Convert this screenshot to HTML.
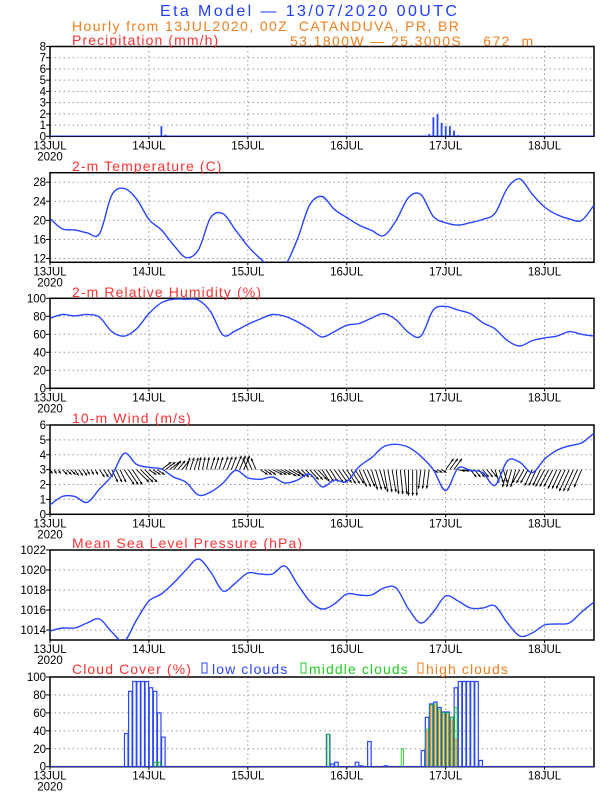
<!DOCTYPE html>
<html><head><meta charset="utf-8">
<style>
html,body{margin:0;padding:0;background:#fff;}
svg{display:block;font-family:"Liberation Sans",sans-serif;}
</style></head>
<body>
<svg id="chart" width="612" height="792" viewBox="0 0 612 792" xmlns="http://www.w3.org/2000/svg">
<text x="160" y="16" font-size="16" letter-spacing="2.4" fill="#2040ff">Eta Model — 13/07/2020 00UTC</text>
<text x="72" y="31" font-size="14" letter-spacing="1.4" fill="#f08020" xml:space="preserve">Hourly from 13JUL2020, 00Z  CATANDUVA, PR, BR</text>
<text x="290" y="46" font-size="14" letter-spacing="1.4" fill="#f08020" xml:space="preserve">53.1800W — 25.3000S    672  m</text>
</svg>
<script>
const hours3 = [0,3,6,9,12,15,18,21,24,27,30,33,36,39,42,45,48,51,54,57,60,63,66,69,72,75,78,81,84,87,90,93,96,99,102,105,108,111,114,117,120,123,126,129,132];
const dayLabels = ["13JUL","14JUL","15JUL","16JUL","17JUL","18JUL"];
const precipHours = [27,28,31,32,33,34,35,36,92,93,94,95,96,97,98,99];
const precipValues = [0.9,0.15,0.03,0.03,0.03,0.03,0.03,0.03,0.2,1.7,2.0,1.2,0.9,0.9,0.5,0.1];
const temperature = [20.4,18.2,18.0,17.4,17.2,25.3,26.7,24.5,20.2,18.0,14.8,12.2,13.8,20.6,21.4,18.0,14.6,12.0,10.0,10.5,16.0,23.2,25.0,22.3,20.6,19.0,17.9,16.8,20.0,24.8,25.4,20.8,19.5,19.0,19.5,20.2,21.5,26.8,28.7,25.5,22.8,21.2,20.3,20.0,23.2];
const humidity = [77.8,82,80.5,82,79,63,58,66,83,95,99,99,98,85,59,64,71,77,82,80,74,66,57,63,70,72,78,83,76,62,58,87,91,87,83,73,66,53,47,53,56,58,63,60,58];
const windSpeed = [0.63,1.2,1.2,0.8,1.7,2.6,4.1,3.35,3.15,3.05,2.5,2.15,1.3,1.5,2.1,2.95,2.45,2.35,2.5,2.1,2.3,2.7,1.85,2.3,2.2,3.2,3.8,4.55,4.7,4.5,3.9,3.0,1.6,3.1,2.95,2.8,1.95,3.6,3.5,2.8,3.7,4.3,4.6,4.8,5.45];
const windU = [0.5,1,0.8,0.5,1,1.2,2,2.5,1.5,2,1.5,0.8,0.5,0.8,1,1.2,-1,1.5,2,2.3,1.5,1.8,1.5,1.8,1.8,1.5,1.2,0.8,0.5,0,-0.5,1,1.6,1.5,1.2,1.2,0.8,-1,-1.5,-1.5,-1.8,-1.8,-2,-1.5,-1.8];
const windV = [-0.8,-1,-1.2,-1,-1.5,-2.5,-3,-2.5,-1,1.5,1.8,2.4,2.5,2.5,2.6,2.8,2.3,-1,-1,-1.3,-1.5,-2,-2.4,-2.6,-2.8,-3.4,-4,-4.5,-4.9,-5.2,-3.8,-0.6,2.2,-0.3,-1.5,-1.5,-2.6,-3.5,-2.7,-3.2,-3.4,-3.8,-4.3,-3.5,-3.6];
const pressure = [1013.9,1014.2,1014.2,1014.7,1015.1,1013.8,1012.9,1015.0,1016.9,1017.6,1018.7,1020.0,1021.1,1019.8,1017.9,1018.7,1019.7,1019.6,1019.6,1020.4,1018.6,1016.9,1016.1,1016.6,1017.6,1017.5,1017.5,1018.2,1018.2,1016.1,1014.7,1015.8,1017.4,1016.9,1016.2,1016.2,1016.4,1014.7,1013.4,1013.7,1014.5,1014.6,1014.7,1015.8,1016.8];
const lowCloudHours = [18,19,20,21,22,23,24,25,26,27,67,68,69,74,75,77,81,90,91,92,93,94,95,96,97,98,99,100,101,102,103,104];
const lowCloudValues = [37,84,95,95,95,95,88,84,60,33,36,3,5,5,1,28,1,18,55,70,72,66,61,61,55,88,95,95,95,95,95,7];
const midCloudHours = [25,26,67,85,91,92,93,94,95,96,97,98];
const midCloudValues = [5,5,36,20,42,69,70,64,60,60,55,66];
const highCloudHours = [91,92,93,94,95,96,97,98];
const highCloudValues = [40,68,68,62,58,58,52,31];

const precipTicks = [0,1,2,3,4,5,6,7,8];
const tempTicks = [12,16,20,24,28];
const rhTicks = [0,20,40,60,80,100];
const windTicks = [0,1,2,3,4,5,6];
const presTicks = [1014,1016,1018,1020,1022];
const cloudTicks = [0,20,40,60,80,100];

const NS = "http://www.w3.org/2000/svg";
const svg = document.getElementById("chart");
const X0 = 50, X1 = 594, HMAX = 132;
function xs(h){ return X0 + h*(X1-X0)/HMAX; }
function mk(tag, attrs, parent){ const e=document.createElementNS(NS,tag); for(const k in attrs) e.setAttribute(k,attrs[k]); (parent||svg).appendChild(e); return e; }

function panel(id, top, bottom, vmin, vmax, ticks, title, titleY){
  const g = mk("g",{});
  
  
  const ys = v => bottom - (v-vmin)/(vmax-vmin)*(bottom-top);
  ticks.forEach(t=>{ const y=ys(t); if(y>top+1 && y<bottom-1){ const l=mk("line",{x1:X0,x2:X1,y1:y,y2:y,stroke:"#999","stroke-width":1,"stroke-dasharray":"1.5,3"},g);
    
     }});
  for(let d=1; d<=5; d++){ const x=xs(d*24); const l=mk("line",{x1:x,x2:x,y1:top,y2:bottom,stroke:"#999","stroke-width":1,"stroke-dasharray":"1.5,3"},g);
    
     }
  const f = mk("rect",{x:X0,y:top,width:X1-X0,height:bottom-top,fill:"none",stroke:"#000","stroke-width":1.5},g);
  
  
  ticks.forEach(t=>{ const y=ys(t);
    mk("line",{x1:X0-4,x2:X0,y1:y,y2:y,stroke:"#000","stroke-width":1},g);
    const tx=mk("text",{x:X0-4,y:y+4,"text-anchor":"end","font-size":11.5,fill:"#000"},g); tx.textContent=t;
    
     });
  dayLabels.forEach((lab,i)=>{ const x=xs(i*24);
    mk("line",{x1:x,x2:x,y1:bottom,y2:bottom+3,stroke:"#000","stroke-width":1},g);
    const tx=mk("text",{x:x,y:bottom+13,"text-anchor":"middle","font-size":11.5,fill:"#000"},g); tx.textContent=lab;
    
     });
  const yr=mk("text",{x:X0,y:bottom+24,"text-anchor":"middle","font-size":11.5,fill:"#000"},g); yr.textContent="2020";
  
  
  if(title){ const tt=mk("text",{x:72,y:titleY,"font-size":14,"letter-spacing":1.1,fill:"#ff3333"},g); tt.textContent=title;
    
     }
  const cp = mk("clipPath",{id:"clip-"+id},g);
  mk("rect",{x:X0,y:top,width:X1-X0,height:bottom-top},cp);
  const dg = mk("g",{"clip-path":"url(#clip-"+id+")"},g);
  return {g:dg, ys, top, bottom};
}
function smoothPath(pts){
  let d="M"+pts[0][0].toFixed(1)+","+pts[0][1].toFixed(1);
  for(let i=0;i<pts.length-1;i++){
    const p0=pts[i-1]||pts[i], p1=pts[i], p2=pts[i+1], p3=pts[i+2]||p2;
    const c1=[p1[0]+(p2[0]-p0[0])/6, p1[1]+(p2[1]-p0[1])/6];
    const c2=[p2[0]-(p3[0]-p1[0])/6, p2[1]-(p3[1]-p1[1])/6];
    d+=" C"+c1[0].toFixed(1)+","+c1[1].toFixed(1)+" "+c2[0].toFixed(1)+","+c2[1].toFixed(1)+" "+p2[0].toFixed(1)+","+p2[1].toFixed(1);
  }
  return d;
}
function line(p, vals, name){
  const pts = vals.map((v,i)=>[xs(hours3[i]), p.ys(v)]);
  const e = mk("path",{d:smoothPath(pts),fill:"none",stroke:"#2846ff","stroke-width":1.4},p.g);
  
  
}

const pp = panel("precipitation",46.5,136.3,0,8,precipTicks,"Precipitation (mm/h)",45);
const pb = mk("line",{x1:X0,x2:X1,y1:pp.ys(0),y2:pp.ys(0),stroke:"#2846ff","stroke-width":1.5},pp.g);


precipHours.forEach((h,i)=>{
  const v=precipValues[i]; const y=pp.ys(v);
  const r=mk("rect",{x:xs(h)-0.8,y:y,width:1.8,height:pp.ys(0)-y,fill:"#2846ff"},pp.g);
  
  
});

const tp = panel("temperature",172.7,262.3,11.2,30,tempTicks,"2-m Temperature (C)",171);
line(tp, temperature, "temperature-line");

const hp = panel("humidity",298.3,388.3,0,100,rhTicks,"2-m Relative Humidity (%)",297);
line(hp, humidity, "humidity-line");

const wp = panel("wind",425,514.3,0,6,windTicks,"10-m Wind (m/s)",423);
const K = 5;
hours3.forEach((h,i)=>{
  for(let s=0;s<3;s++){
    const hh=h+s;
    if(hh>=HMAX-2) continue;
    const x0=xs(hh), y0=wp.ys(3);
    const x1=x0+windU[i]*K, y1=y0-windV[i]*K;
    const a=mk("g",{},wp.g);
    
    
    mk("line",{x1:x0,y1:y0,x2:x1,y2:y1,stroke:"#000","stroke-width":0.9},a);
    const ang=Math.atan2(y1-y0,x1-x0);
    const hl=3;
    const pts=[[x1,y1],[x1-hl*Math.cos(ang-0.45),y1-hl*Math.sin(ang-0.45)],[x1-hl*Math.cos(ang+0.45),y1-hl*Math.sin(ang+0.45)]];
    mk("polygon",{points:pts.map(p=>p.map(n=>n.toFixed(1)).join(",")).join(" "),fill:"#000"},a);
  }
});
line(wp, windSpeed, "wind-speed-line");

const prp = panel("pressure",550,640,1013,1022,presTicks,"Mean Sea Level Pressure (hPa)",548);
line(prp, pressure, "pressure-line");

const cp = panel("cloud",677,766.7,0,100,cloudTicks,"Cloud Cover (%)",674);
function cloudBars(hrs, vals, color, inset, sw, name){
  hrs.forEach((h,i)=>{
    const v=vals[i]; const y=cp.ys(v); const w=(X1-X0)/HMAX;
    const r=mk("rect",{x:xs(h)+inset,y:y,width:w-2*inset,height:cp.ys(0)-y,fill:"none",stroke:color,"stroke-width":sw},cp.g);
    
    
  });
}
cloudBars(lowCloudHours, lowCloudValues, "#2846ff", 0.3, 1.2, "low-cloud-bar");
cloudBars(midCloudHours, midCloudValues, "#22cc22", 0.9, 0.9, "middle-cloud-bar");
cloudBars(highCloudHours, highCloudValues, "#f08020", 1.4, 0.7, "high-cloud-bar");
const cb = mk("line",{x1:X0,x2:X1,y1:cp.ys(0),y2:cp.ys(0),stroke:"#2846ff","stroke-width":1.5},cp.g);



function legend(x, color, label, tx){
  const g=mk("g",{});
  
  
  mk("rect",{x:x,y:663,width:5,height:10,fill:"none",stroke:color,"stroke-width":1},g);
  const t=mk("text",{x:tx,y:674,"font-size":14,"letter-spacing":1.1,fill:color},g); t.textContent=label;
}
legend(202,"#2846ff","low clouds",212);
legend(301,"#22cc22","middle clouds",309);
legend(418,"#f08020","high clouds",426);
</script>
</body></html>
